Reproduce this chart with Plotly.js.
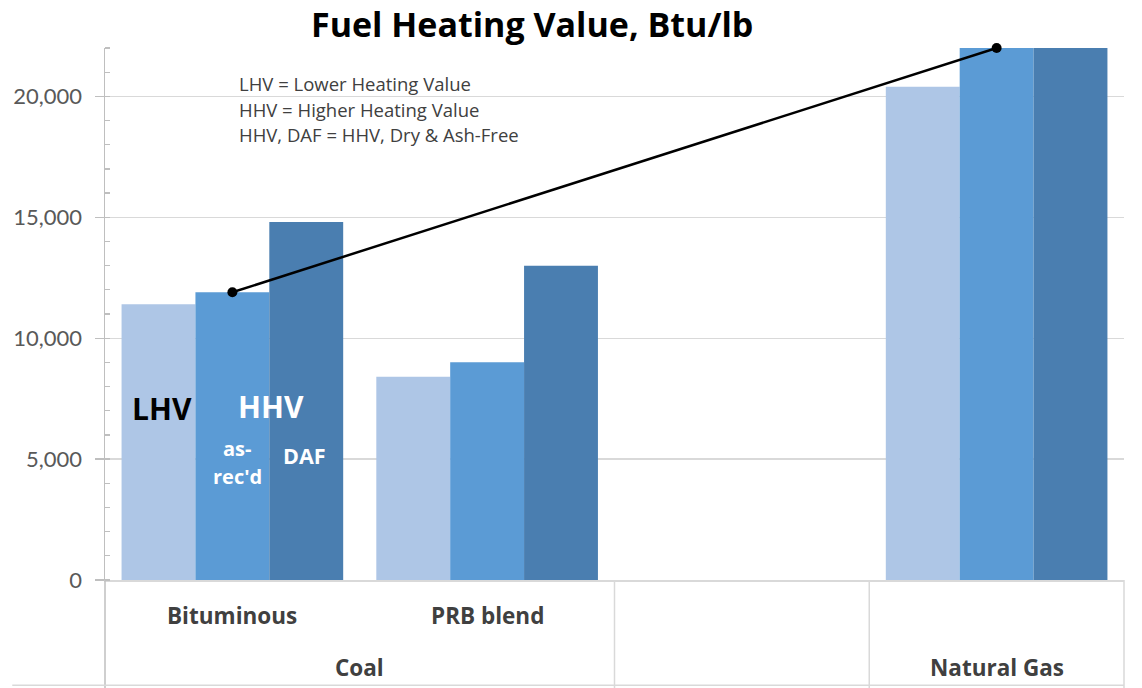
<!DOCTYPE html>
<html>
<head>
<meta charset="utf-8">
<script src="https://cdn.plot.ly/plotly-3.0.1.min.js"></script>
<style>
  html, body { margin: 0; padding: 0; background: #ffffff; }
  #chart { width: 1142px; height: 688px; }
</style>
</head>
<body>
<div id="chart"></div>
<script>
// ---- Data ----
const categories = ["Bituminous", "PRB blend", "blank", "Natural Gas"];
const categoryLabels = ["Bituminous", "PRB blend", "", ""];
const groupNames = ["Coal", "Natural Gas"];
const groupMembers = [["Bituminous", "PRB blend"], ["Natural Gas"]];

const barCategories = ["Bituminous", "PRB blend", "Natural Gas"];
const lhvValues = [11400, 8400, 20400];
const hhvValues = [11900, 9000, 23000];
const dafValues = [14800, 13000, 23000];

const lineCategories = ["Bituminous", "Natural Gas"];
const lineValues = [11900, 22000];

const noteLines = [
  "LHV = Lower Heating Value",
  "HHV = Higher Heating Value",
  "HHV, DAF = HHV, Dry & Ash-Free"
];
const yTickValues = [0, 5000, 10000, 15000, 20000];

// ---- Styles ----
const FONT = "Lato, 'Open Sans', sans-serif";
const FONT2 = "'Open Sans', Lato, sans-serif";
const colLHV = "#aec6e6";
const colHHV = "#5b9bd5";
const colDAF = "#4a7eb0";
const axisGray = "#bfbfbf";
const gridGray = "#d9d9d9";

const traces = [
  { type: "bar", name: "LHV", x: barCategories, y: lhvValues, marker: { color: colLHV }, hoverinfo: "y" },
  { type: "bar", name: "HHV", x: barCategories, y: hhvValues, marker: { color: colHHV }, hoverinfo: "y" },
  { type: "bar", name: "HHV, DAF", x: barCategories, y: dafValues, marker: { color: colDAF }, hoverinfo: "y" },
  { type: "scatter", mode: "lines+markers", x: lineCategories, y: lineValues,
    line: { color: "#000000", width: 2.5 }, marker: { color: "#000000", size: 10 },
    cliponaxis: false, hoverinfo: "y" }
];

const ncat = categories.length;
const plotBottomPaper = -0.203;
const annotations = [];

// category labels (upper row)
categoryLabels.forEach((lab, i) => {
  if (!lab) return;
  annotations.push({ x: i, xref: "x", y: -0.066, yref: "paper", text: "<b>" + lab + "</b>",
    showarrow: false, font: { family: FONT2, size: 22.5, color: "#404040" }, xanchor: "center", yanchor: "middle" });
});
// group labels (lower row)
groupNames.forEach((g, gi) => {
  const idx = groupMembers[gi].map(c => categories.indexOf(c));
  const mid = (Math.min(...idx) + Math.max(...idx)) / 2;
  annotations.push({ x: mid, xref: "x", y: -0.164, yref: "paper", text: "<b>" + g + "</b>",
    showarrow: false, font: { family: FONT2, size: 22.5, color: "#404040" }, xanchor: "center", yanchor: "middle" });
});
// note lines
noteLines.forEach((t, i) => {
  annotations.push({ x: 0.1295, xref: "paper", y: 0.933 - i * 0.048, yref: "paper", text: t,
    showarrow: false, font: { family: FONT2, size: 18.5, color: "#404040" }, xanchor: "left", yanchor: "middle" });
});
// in-bar labels
annotations.push({ x: -0.276, xref: "x", y: 7110, yref: "y", text: "<b>LHV</b>", showarrow: false,
  font: { family: FONT2, size: 30, color: "#000000" } });
annotations.push({ x: 0.15, xref: "x", y: 7190, yref: "y", text: "<b>HHV</b>", showarrow: false,
  font: { family: FONT2, size: 30, color: "#ffffff" } });
annotations.push({ x: 0.02, xref: "x", y: 5420, yref: "y", text: "<b>as-</b>", showarrow: false,
  font: { family: FONT2, size: 20, color: "#ffffff" } });
annotations.push({ x: 0.02, xref: "x", y: 4260, yref: "y", text: "<b>rec'd</b>", showarrow: false,
  font: { family: FONT2, size: 20, color: "#ffffff" } });
annotations.push({ x: 0.284, xref: "x", y: 5150, yref: "y", text: "<b>DAF</b>", showarrow: false,
  font: { family: FONT2, size: 21.5, color: "#ffffff" } });

const shapes = [];
// vertical dividers in category area
[0, 2, 3, 4].forEach(k => {
  shapes.push({ type: "line", xref: "paper", yref: "paper", x0: k / ncat, x1: k / ncat,
    y0: 0, y1: plotBottomPaper, line: { color: k === 0 ? axisGray : gridGray, width: 1.5 } });
});
// bottom line
shapes.push({ type: "line", xref: "paper", yref: "paper", x0: -0.091, x1: 1,
  y0: -0.198, y1: -0.198, line: { color: gridGray, width: 1.5 } });

const layout = {
  width: 1142, height: 688,
  margin: { l: 105, r: 18, t: 48, b: 108 },
  paper_bgcolor: "#ffffff", plot_bgcolor: "#ffffff",
  showlegend: false,
  barmode: "group", bargap: 0.13, bargroupgap: 0,
  title: { text: "<b>Fuel Heating Value, Btu/lb</b>", x: 0.466, xanchor: "center",
    y: 0.964, yanchor: "middle", font: { family: FONT2, size: 34, color: "#000000" } },
  xaxis: { type: "category", categoryorder: "array", categoryarray: categories,
    range: [-0.5, ncat - 0.5], showticklabels: false, ticks: "", showgrid: false,
    showline: true, linecolor: gridGray, linewidth: 1.5, zeroline: false, fixedrange: true },
  yaxis: { range: [0, 22000], tickvals: yTickValues, tickformat: ",", showgrid: true,
    gridcolor: gridGray, gridwidth: 1.2, zeroline: false, showline: true, linecolor: axisGray,
    linewidth: 1.5, ticks: "outside", ticklen: 9, tickcolor: axisGray, tickwidth: 1.2,
    ticklabelstandoff: 8,
    minor: { dtick: 1000, ticks: "inside", ticklen: 5, tickcolor: axisGray, tickwidth: 1.2, showgrid: false },
    tickfont: { family: FONT, size: 22, color: "#595959" }, fixedrange: true },
  annotations: annotations,
  shapes: shapes
};

Plotly.newPlot("chart", traces, layout, { displayModeBar: false, staticPlot: true });
</script>
</body>
</html>
